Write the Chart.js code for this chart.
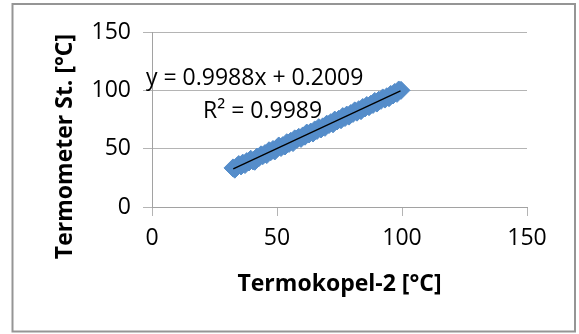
<!DOCTYPE html>
<html>
<head>
<meta charset="utf-8">
<script src="https://cdn.jsdelivr.net/npm/chart.js@4"></script>
<style>
  html, body { margin: 0; padding: 0; background: #fff; }
  #wrap { width: 579px; height: 334px; }
  canvas { display: block; }
</style>
</head>
<body>
<div id="wrap"><canvas id="c" width="579" height="334"></canvas></div>
<script>
// ---- data ----
const xValues = [32.4, 33.1, 34.0, 34.7, 35.6, 36.3, 37.2, 37.9, 38.8, 39.5, 40.4, 41.1, 42.0, 42.7, 43.6, 44.3, 45.2, 45.9, 46.8, 47.5,
  48.4, 49.1, 50.0, 50.7, 51.6, 52.3, 53.2, 53.9, 54.8, 55.5, 56.4, 57.1, 58.0, 58.7, 59.6, 60.3, 61.2, 61.9, 62.8, 63.5,
  64.4, 65.1, 66.0, 66.7, 67.6, 68.3, 69.2, 69.9, 70.8, 71.5, 72.4, 73.1, 74.0, 74.7, 75.6, 76.3, 77.2, 77.9, 78.8, 79.5,
  80.4, 81.1, 82.0, 82.7, 83.6, 84.3, 85.2, 85.9, 86.8, 87.5, 88.4, 89.1, 90.0, 90.7, 91.6, 92.3, 93.2, 93.9, 94.8, 95.5,
  96.4, 97.1, 98.0, 98.7, 99.6];
const yValues = [33.5, 32.4, 34.7, 36.4, 35.2, 37.6, 36.4, 38.9, 38.6, 40.9, 39.5, 39.2, 42.8, 42.2, 44.7, 44.0, 45.8, 44.9, 48.2, 47.4,
  49.3, 48.0, 50.5, 52.3, 51.0, 52.6, 52.3, 55.1, 54.5, 56.3, 55.2, 58.4, 58.0, 59.7, 58.8, 60.9, 60.7, 63.4, 62.6, 64.2,
  63.4, 66.1, 65.6, 68.0, 66.9, 68.7, 68.3, 71.0, 70.7, 72.3, 71.3, 74.5, 73.7, 75.2, 74.8, 77.5, 76.7, 78.8, 77.9, 80.1,
  80.2, 82.4, 81.3, 83.4, 82.6, 85.3, 84.9, 87.0, 86.0, 88.0, 87.9, 90.5, 89.1, 91.5, 91.4, 93.5, 92.5, 94.5, 93.7, 96.5,
  96.0, 98.2, 97.4, 100.3, 100.0];
const trendX = [32.5, 99.4];
const trendY = [32.66, 99.48];
const axisTicks = [0, 50, 100, 150];
const xTitle = 'Termokopel-2 [°C]';
const yTitle = 'Termometer St. [°C]';
const equationText = 'y = 0.9988x + 0.2009';
const r2Text = 'R² = 0.9989';

const scatterData = xValues.map((x, i) => ({ x: x, y: yValues[i] }));
const trendData = trendX.map((x, i) => ({ x: x, y: trendY[i] }));

const FONT = "'Open Sans', 'Liberation Sans', sans-serif";
const blue = '#558DCA';
const gridCol = '#b4b4b4';
const axisCol = '#a2a2a2';

const decorPlugin = {
  id: 'decor',
  beforeDraw(chart) {
    const ctx = chart.ctx;
    ctx.save();
    ctx.fillStyle = '#ffffff';
    ctx.fillRect(0, 0, chart.width, chart.height);
    ctx.strokeStyle = '#959595';
    ctx.lineWidth = 2;
    ctx.strokeRect(12.5, 4, 562.5, 327.5);
    ctx.restore();
  },
  afterDraw(chart) {
    const ctx = chart.ctx;
    ctx.save();
    ctx.fillStyle = '#000';
    ctx.font = "bold 23px " + FONT;
    ctx.textAlign = 'center';
    ctx.textBaseline = 'alphabetic';
    ctx.translate(72, 146.5);
    ctx.rotate(-Math.PI / 2);
    ctx.fillText(yTitle, 0, 0);
    ctx.restore();
    ctx.save();
    ctx.fillStyle = '#000';
    ctx.font = "23px " + FONT;
    ctx.textAlign = 'left';
    ctx.textBaseline = 'alphabetic';
    ctx.fillText(equationText, 146, 84.5);
    ctx.fillText(r2Text, 203, 118);
    ctx.restore();
  }
};

new Chart(document.getElementById('c'), {
  type: 'scatter',
  data: {
    datasets: [
      {
        type: 'line',
        label: 'Trend',
        data: trendData,
        borderColor: '#000',
        borderWidth: 1.3,
        pointRadius: 0,
        fill: false,
        order: 0
      },
      {
        label: 'Data',
        data: scatterData,
        pointStyle: 'rectRot',
        pointRadius: 9,
        pointHoverRadius: 9,
        backgroundColor: blue,
        borderColor: blue,
        borderWidth: 1,
        order: 1
      }
    ]
  },
  options: {
    responsive: false,
    animation: false,
    events: [],
    layout: { padding: { top: 32, right: 52, left: 0, bottom: 0 } },
    plugins: { legend: { display: false }, tooltip: { enabled: false }, title: { display: false } },
    scales: {
      x: {
        type: 'linear',
        min: 0, max: 150,
        afterBuildTicks(scale) { scale.ticks = axisTicks.map(v => ({ value: v })); },
        afterFit(scale) { scale.height = 127; },
        grid: { drawOnChartArea: false, drawTicks: true, tickLength: 9, tickColor: gridCol },
        border: { display: true, color: axisCol, width: 1 },
        ticks: { color: '#000', font: { family: FONT, size: 23 }, padding: 9, maxRotation: 0 },
        title: { display: true, text: xTitle, color: '#000', font: { family: FONT, size: 23, weight: 'bold' }, padding: { top: 0, bottom: 36 } }
      },
      y: {
        type: 'linear',
        min: 0, max: 150,
        afterBuildTicks(scale) { scale.ticks = axisTicks.map(v => ({ value: v })); },
        afterFit(scale) { scale.width = 152; },
        grid: { color: gridCol, drawTicks: true, tickLength: 9, tickColor: gridCol },
        border: { display: true, color: axisCol, width: 1 },
        ticks: { color: '#000', font: { family: FONT, size: 23 }, padding: 12 },
        title: { display: false }
      }
    }
  },
  plugins: [decorPlugin]
});
</script>
</body>
</html>
